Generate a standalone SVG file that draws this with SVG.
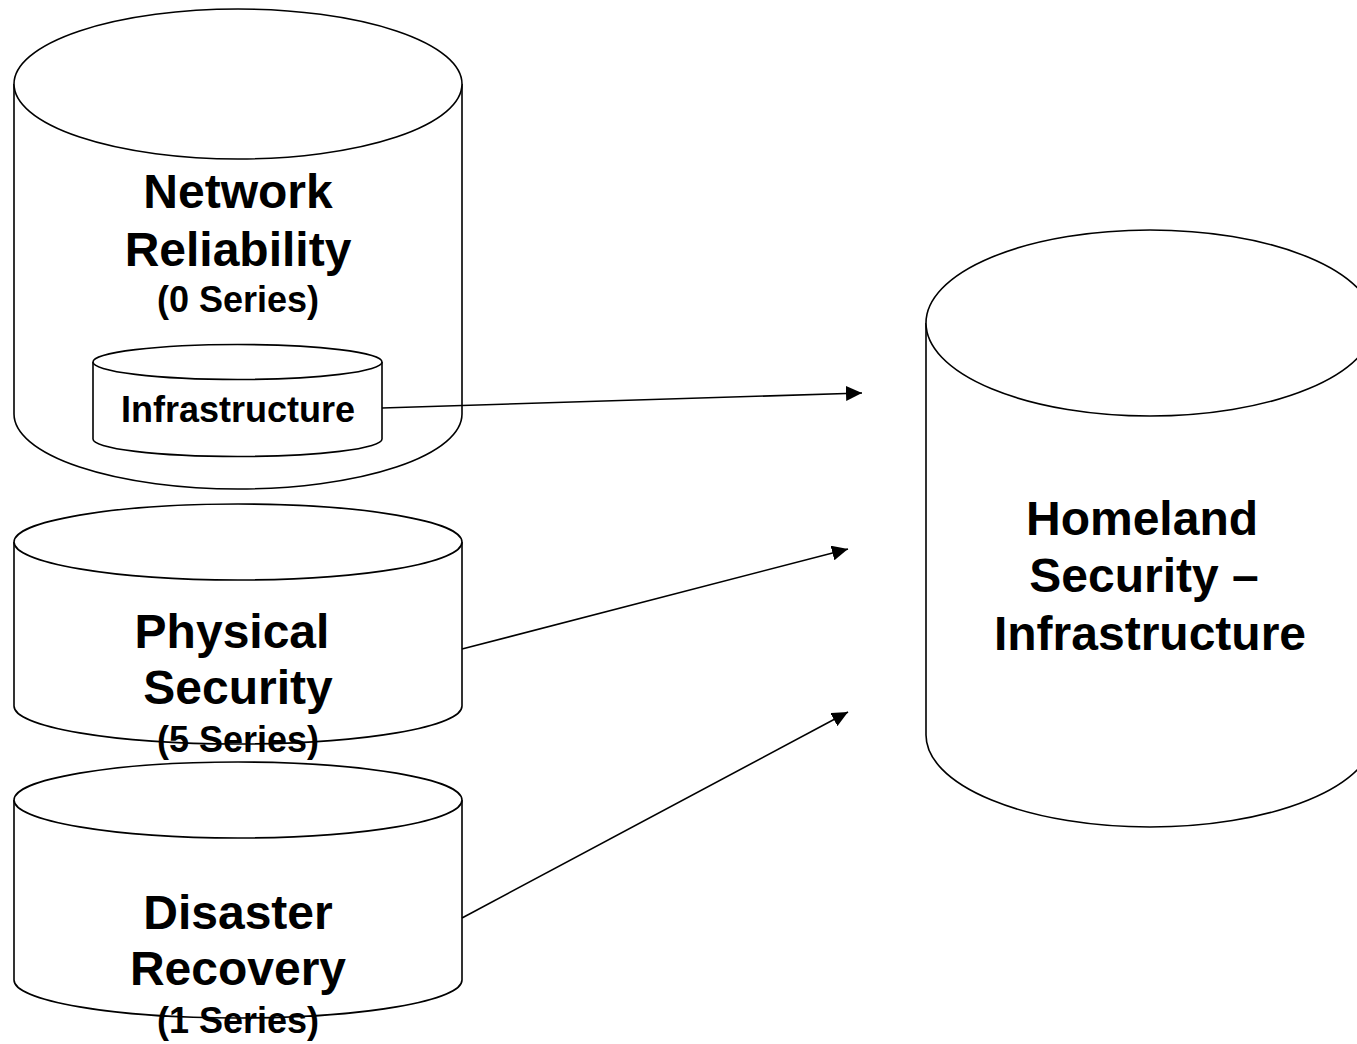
<svg xmlns="http://www.w3.org/2000/svg" width="1357" height="1044" viewBox="0 0 1357 1044">
<style>
.cyl{fill:#fff;stroke:#000;stroke-width:1.6}
.t{font-family:"Liberation Sans",Arial,sans-serif;font-weight:bold;fill:#000;text-anchor:middle}
.big{font-size:48px}
.sm{font-size:36px}
.conn{stroke:#000;stroke-width:1.6;fill:none;marker-end:url(#ah)}
</style>
<defs>
<marker id="ah" markerUnits="userSpaceOnUse" markerWidth="17" markerHeight="15" refX="16" refY="7.5" orient="auto">
<path d="M0,0 L16,7.5 L0,15 Z" fill="#000"/>
</marker>
</defs>
<rect width="1357" height="1044" fill="#fff"/>
<g id="network-reliability">
<path class="cyl" d="M14,84 L14,414 A224,75 0 0 0 462,414 L462,84"/>
<ellipse class="cyl" cx="238" cy="84" rx="224" ry="75"/>
<text class="t big" x="238" y="208">Network</text>
<text class="t big" x="238" y="266">Reliability</text>
<text class="t sm" x="238" y="312">(0 Series)</text>
</g>
<g id="infrastructure">
<path class="cyl" d="M93,362 L93,439 A144.5,17.5 0 0 0 382,439 L382,362"/>
<ellipse class="cyl" cx="237.5" cy="362" rx="144.5" ry="17.5"/>
<text class="t sm" x="238" y="422">Infrastructure</text>
</g>
<g id="physical-security">
<path class="cyl" d="M14,542 L14,706 A224,38 0 0 0 462,706 L462,542"/>
<ellipse class="cyl" cx="238" cy="542" rx="224" ry="38"/>
<text class="t big" x="232" y="648">Physical</text>
<text class="t big" x="238" y="704">Security</text>
<text class="t sm" x="238" y="752">(5 Series)</text>
</g>
<g id="disaster-recovery">
<path class="cyl" d="M14,800 L14,980 A224,38 0 0 0 462,980 L462,800"/>
<ellipse class="cyl" cx="238" cy="800" rx="224" ry="38"/>
<text class="t big" x="238" y="929">Disaster</text>
<text class="t big" x="238" y="985">Recovery</text>
<text class="t sm" x="238" y="1033">(1 Series)</text>
</g>
<g id="homeland-security">
<path class="cyl" d="M926,323 L926,735 A224,92 0 0 0 1374,735 L1374,323"/>
<ellipse class="cyl" cx="1150" cy="323" rx="224" ry="93"/>
<text class="t big" x="1142" y="535">Homeland</text>
<text class="t big" x="1144" y="592">Security –</text>
<text class="t big" x="1150" y="650">Infrastructure</text>
</g>
<g id="connectors">
<line class="conn" x1="382" y1="408" x2="862" y2="393"/>
<line class="conn" x1="462" y1="649" x2="848" y2="549"/>
<line class="conn" x1="462" y1="918" x2="848" y2="712"/>
</g>
</svg>
